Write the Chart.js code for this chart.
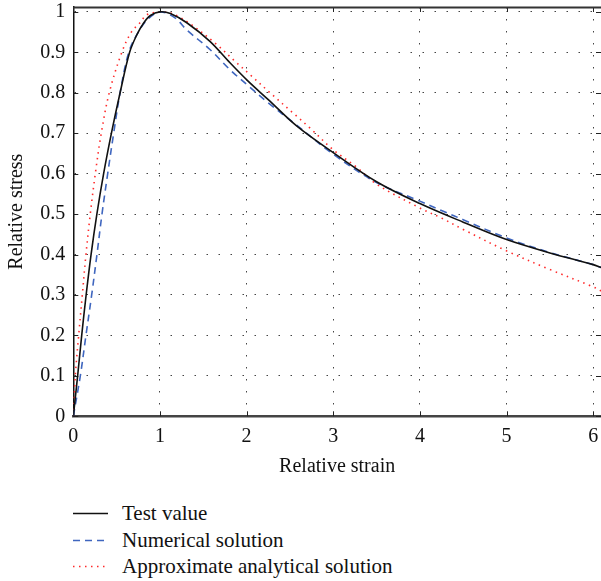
<!DOCTYPE html>
<html>
<head>
<meta charset="utf-8">
<script src="https://cdn.jsdelivr.net/npm/chart.js@4.4.0/dist/chart.umd.min.js"></script>
<style>
  html, body { margin: 0; padding: 0; background: #fff; }
  #wrap { position: relative; width: 601px; height: 581px; overflow: hidden; }
  #chart { position: absolute; left: 0; top: 0; }
  #legend { position: absolute; left: 0; top: 0; width: 601px; font-family: 'Liberation Serif', serif; font-size: 21px; color: #111; }
  .row { position: absolute; left: 0; width: 601px; height: 26px; line-height: 26px; white-space: nowrap; }
  .row canvas { position: absolute; left: 73px; top: 0; }
  .row span { position: absolute; left: 122px; top: 0; }
</style>
</head>
<body>
<div id="wrap">
  <canvas id="chart" width="601" height="490"></canvas>
  <div id="legend"></div>
</div>
<script>
// Series names
const seriesNames = ['Test value', 'Numerical solution', 'Approximate analytical solution'];

// Test value curve (relative strain -> relative stress)
const testStrain = [0, 0.05, 0.097, 0.148, 0.205, 0.272, 0.35, 0.44, 0.54, 0.65, 0.73, 0.81, 0.89, 1.0,
  1.12, 1.31, 1.577, 1.808, 2.02, 2.25, 2.577, 3.0, 3.5, 4.0, 4.5, 5.0, 5.5, 6.0, 6.09];
const testStress = [0, 0.1, 0.2, 0.3, 0.4, 0.5, 0.6, 0.7, 0.8, 0.9, 0.942, 0.972, 0.991, 1.0,
  0.996, 0.973, 0.927, 0.874, 0.828, 0.783, 0.718, 0.652, 0.58, 0.526, 0.48, 0.437, 0.404, 0.375, 0.368];

// Numerical solution curve
const numStrain = [0, 0.081, 0.146, 0.212, 0.273, 0.331, 0.397, 0.466, 0.54, 0.64, 0.75, 0.86, 1.0,
  1.174, 1.31, 1.577, 1.808, 2.02, 2.25, 2.577, 3.0, 3.5, 4.0, 4.27, 4.5, 5.0, 5.5, 6.0, 6.09];
const numStress = [0, 0.1, 0.2, 0.3, 0.4, 0.5, 0.6, 0.7, 0.8, 0.9, 0.95, 0.982, 1.0,
  0.985, 0.955, 0.907, 0.857, 0.817, 0.775, 0.72, 0.648, 0.578, 0.532, 0.507, 0.486, 0.441, 0.405, 0.375, 0.368];

// Approximate analytical solution curve
const anaStrain = [0, 0.023, 0.062, 0.104, 0.146, 0.196, 0.254, 0.323, 0.415, 0.56, 0.67, 0.77, 0.85, 1.0,
  1.12, 1.21, 1.346, 1.635, 1.865, 2.038, 2.27, 2.557, 2.73, 3.0, 3.27, 3.5, 4.0, 4.25, 4.5, 5.0, 5.5, 6.0, 6.09];
const anaStress = [0, 0.1, 0.2, 0.3, 0.4, 0.5, 0.6, 0.7, 0.8, 0.9, 0.95, 0.973, 0.993, 1.0,
  0.997, 0.989, 0.971, 0.923, 0.878, 0.845, 0.80, 0.746, 0.713, 0.659, 0.616, 0.574, 0.515, 0.49, 0.462, 0.409, 0.363, 0.32, 0.31];

// Axis ranges
const xMin = 0, xMax = 6.09, xStep = 1;
const yMin = 0, yMax = 1.012, yStep = 0.1;

const toPoints = (xs, ys) => xs.map((x, i) => ({ x: x, y: ys[i] }));

const FONT = "'Liberation Serif', serif";

const styles = [
  { color: '#111111', dash: [], width: 1.6 },
  { color: '#3f66bf', dash: [7, 5], width: 1.6 },
  { color: '#ff2a2a', dash: [1.5, 4.5], width: 1.6 }
];

const seriesData = [
  toPoints(testStrain, testStress),
  toPoints(numStrain, numStress),
  toPoints(anaStrain, anaStress)
];

// Frame on top plus inward tick marks on all four sides
const framePlugin = {
  id: 'frame',
  beforeDatasetsDraw(chart) {
    const { ctx, chartArea: a, scales } = chart;
    const len = 5;
    ctx.save();
    ctx.strokeStyle = '#222';
    ctx.lineWidth = 1;
    ctx.beginPath();
    scales.y.ticks.forEach(t => {
      const py = Math.round(scales.y.getPixelForValue(t.value)) + 0.5;
      ctx.moveTo(a.left, py); ctx.lineTo(a.left + len, py);
      ctx.moveTo(a.right, py); ctx.lineTo(a.right - len, py);
    });
    scales.x.ticks.forEach(t => {
      const px = Math.round(scales.x.getPixelForValue(t.value)) + 0.5;
      ctx.moveTo(px, a.bottom); ctx.lineTo(px, a.bottom - len);
      ctx.moveTo(px, a.top); ctx.lineTo(px, a.top + len);
    });
    ctx.stroke();
    ctx.lineWidth = 2;
    ctx.strokeStyle = '#333';
    ctx.beginPath();
    ctx.moveTo(a.left, a.top + 0.5);
    ctx.lineTo(a.right, a.top + 0.5);
    ctx.stroke();
    ctx.restore();
  }
};

const chart = new Chart(document.getElementById('chart'), {
  type: 'line',
  data: {
    datasets: seriesNames.map((name, i) => ({
      label: name,
      data: seriesData[i],
      borderColor: styles[i].color,
      backgroundColor: styles[i].color,
      borderDash: styles[i].dash,
      borderWidth: styles[i].width,
      pointRadius: 0,
      fill: false,
      tension: 0.35
    }))
  },
  options: {
    responsive: false,
    animation: false,
    devicePixelRatio: 1,
    layout: { padding: { top: 7, right: 0, bottom: 0, left: 0 } },
    plugins: { legend: { display: false }, tooltip: { enabled: false } },
    scales: {
      x: {
        type: 'linear',
        min: xMin, max: xMax,
        ticks: {
          stepSize: xStep, includeBounds: false,
          font: { family: FONT, size: 20 }, color: '#111', padding: 8,
          callback: v => String(v)
        },
        grid: { color: '#444', lineWidth: 1, drawTicks: false },
        border: { display: true, color: '#444', width: 2.5, dash: [1.5, 10.5] },
        title: { display: true, text: 'Relative strain', font: { family: FONT, size: 20 }, color: '#111', padding: { top: 0, bottom: 11 } },
        afterFit: s => { s.height = 73.7; s.paddingLeft = 0; s.paddingRight = 0; }
      },
      y: {
        type: 'linear',
        min: yMin, max: yMax,
        ticks: {
          stepSize: yStep, includeBounds: false,
          font: { family: FONT, size: 20 }, color: '#111', padding: 8,
          callback: v => String(Math.round(v * 10) / 10)
        },
        grid: { color: '#444', lineWidth: 1, drawTicks: false },
        border: { display: true, color: '#111', width: 1.5, dash: [1.5, 10.5] },
        title: { display: true, text: 'Relative stress', font: { family: FONT, size: 20 }, color: '#111', padding: { top: 5, bottom: 0 } },
        afterFit: s => { s.width = 73.3; s.paddingTop = 0; s.paddingBottom = 0; }
      }
    }
  },
  plugins: [framePlugin]
});

// Legend under the plot, one entry per row
const legend = document.getElementById('legend');
seriesNames.forEach((name, i) => {
  const row = document.createElement('div');
  row.className = 'row';
  row.style.top = (500 + i * 26.5) + 'px';
  const c = document.createElement('canvas');
  c.width = 36; c.height = 26;
  const g = c.getContext('2d');
  g.strokeStyle = styles[i].color;
  g.lineWidth = styles[i].width;
  g.setLineDash(styles[i].dash);
  g.beginPath();
  g.moveTo(0, 13.5); g.lineTo(35, 13.5);
  g.stroke();
  const s = document.createElement('span');
  s.textContent = name;
  row.appendChild(c);
  row.appendChild(s);
  legend.appendChild(row);
});
</script>
</body>
</html>
